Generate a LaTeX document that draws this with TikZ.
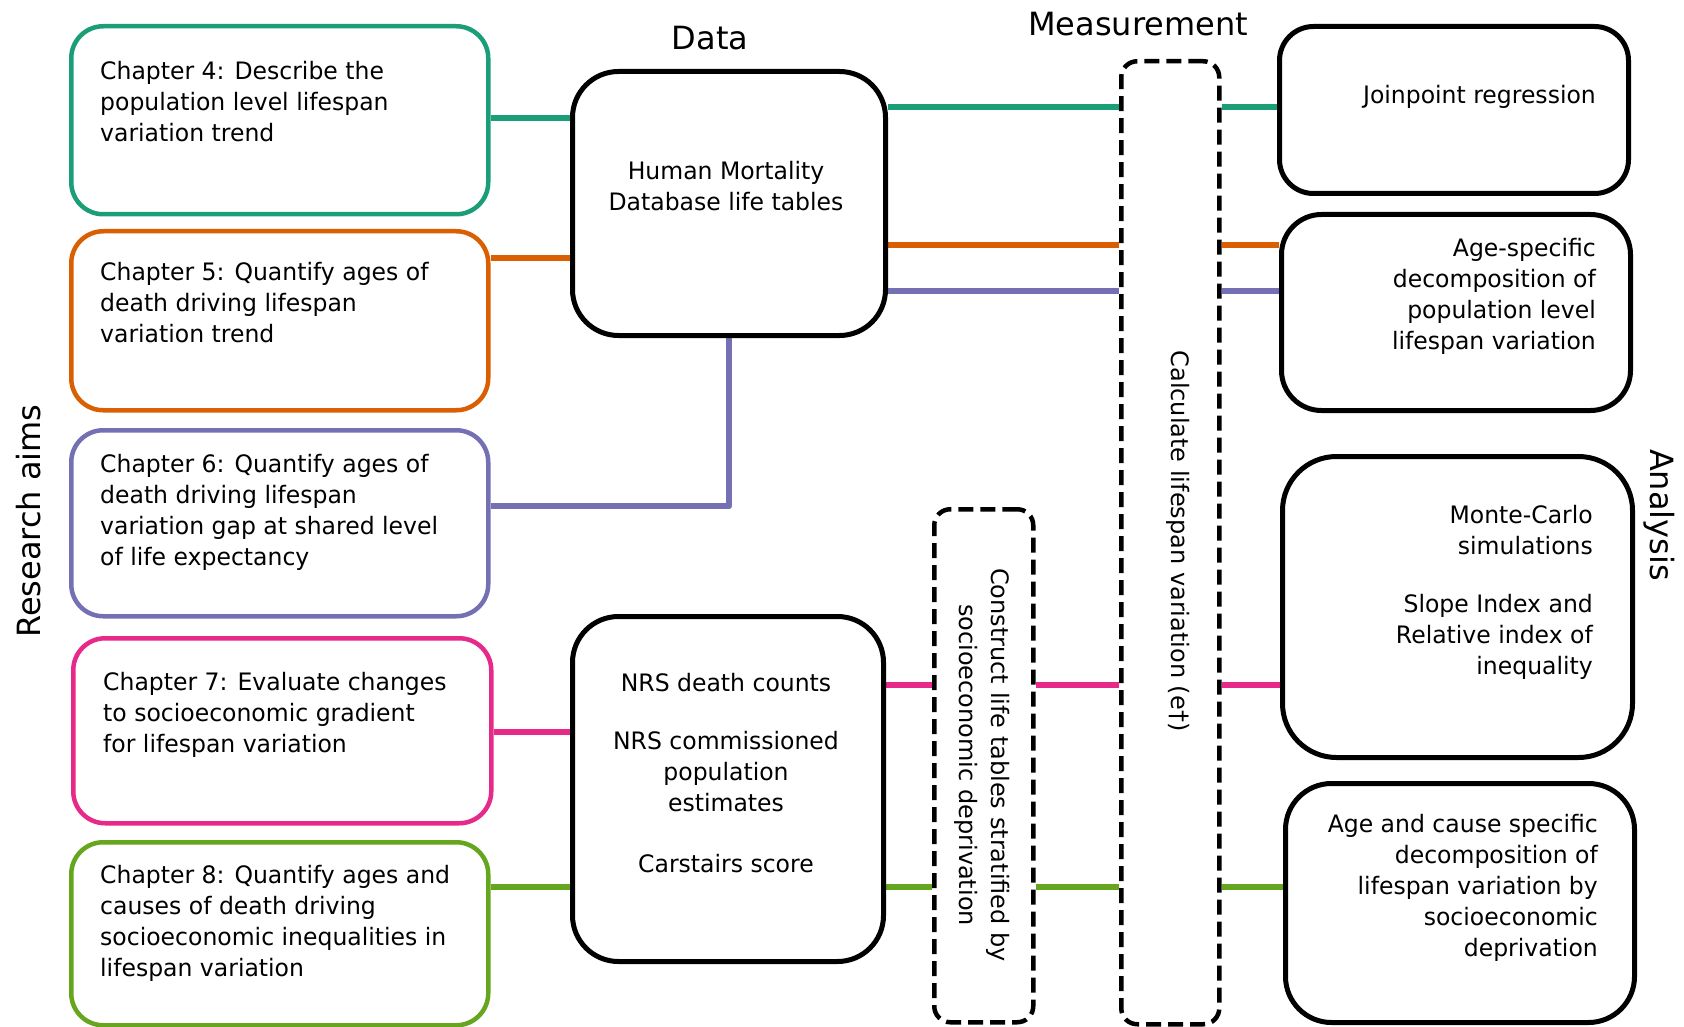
\documentclass[tikz,border=0pt]{standalone}
\usepackage{fontspec}
\setmainfont{DejaVu Sans}
\newfontfamily\bxf{DejaVu Sans}[FakeStretch=0.98]
\usetikzlibrary{backgrounds}
\definecolor{cA}{HTML}{1B9E77}
\definecolor{cB}{HTML}{D95F02}
\definecolor{cC}{HTML}{7570B3}
\definecolor{cD}{HTML}{E7298A}
\definecolor{cE}{HTML}{66A61E}
\begin{document}
\begin{tikzpicture}[x=1pt,y=-1pt,
  cbox/.style={draw=#1, line width=4.5pt, rounded corners=32pt, fill=white, inner sep=0pt, anchor=north west},
  kbox/.style={draw=black, line width=5pt, rounded corners=#1, fill=white, inner sep=0pt, anchor=north west},
  dbox/.style={draw=black, line width=4.5pt, dash pattern=on 15pt off 7pt, rounded corners=16pt, fill=white, inner sep=0pt, anchor=north west},
  conn/.style={line width=6.5pt, draw=#1},
  txt/.style={font=\bxf\fontsize{24}{31}\selectfont, inner sep=0pt},
  ttl/.style={font=\fontsize{32}{38}\selectfont, inner sep=0pt},
  vtxt/.style={font=\fontsize{24}{32}\selectfont, inner sep=0pt, align=center}
]
\useasboundingbox (0,0) rectangle (1684,1027);
% level coordinates
\coordinate (yA) at (0,118);
\coordinate (yA2) at (0,107);
\coordinate (yB) at (0,258);
\coordinate (yB2) at (0,245);
\coordinate (yC) at (0,506);
\coordinate (yC2) at (0,291);
\coordinate (yD) at (0,732);
\coordinate (yD2) at (0,685);
\coordinate (yE) at (0,887);
% boxes
\node[cbox=cA, minimum width=417pt, minimum height=188pt] (ch4) at (69,24) {};
\node[cbox=cB, minimum width=417pt, minimum height=179pt] (ch5) at (69,229) {};
\node[cbox=cC, minimum width=417pt, minimum height=186pt] (ch6) at (69,428) {};
\node[cbox=cD, minimum width=418pt, minimum height=185pt] (ch7) at (71,636) {};
\node[cbox=cE, minimum width=417pt, minimum height=183pt] (ch8) at (69,840) {};
\node[kbox=46pt, minimum width=313pt, minimum height=264pt] (data) at (570,69) {};
\node[kbox=46pt, minimum width=311pt, minimum height=345pt] (nrs) at (570,614) {};
\node[dbox, minimum width=99pt, minimum height=513pt] (cons) at (932,507) {};
\node[dbox, minimum width=98pt, minimum height=963pt] (calc) at (1119,59) {};
\node[kbox=34pt, minimum width=349pt, minimum height=167pt] (join) at (1277,24) {};
\node[kbox=40pt, minimum width=349pt, minimum height=196pt] (agesp) at (1279,212) {};
\node[kbox=54pt, minimum width=350pt, minimum height=301pt] (monte) at (1280,454) {};
\node[kbox=46pt, minimum width=349pt, minimum height=239pt] (cause) at (1283,781) {};
% connectors behind the boxes
\begin{scope}[on background layer]
\draw[conn=cA] (ch4.east |- yA) -- (data.west |- yA);
\draw[conn=cB] (ch5.east |- yB) -- (data.west |- yB);
\draw[conn=cC, line join=round] (ch6.east |- yC) -- (data.south |- yC) -- (data.south);
\draw[conn=cD] (ch7.east |- yD) -- (nrs.west |- yD);
\draw[conn=cE] (ch8.east |- yE) -- (nrs.west |- yE);
\draw[conn=cA] (data.east |- yA2) -- (calc.west |- yA2);
\draw[conn=cA] (calc.east |- yA2) -- (join.west |- yA2);
\draw[conn=cB] (data.east |- yB2) -- (calc.west |- yB2);
\draw[conn=cB] (calc.east |- yB2) -- (agesp.west |- yB2);
\draw[conn=cC] (data.east |- yC2) -- (calc.west |- yC2);
\draw[conn=cC] (calc.east |- yC2) -- (agesp.west |- yC2);
\draw[conn=cD] (nrs.east |- yD2) -- (cons.west |- yD2);
\draw[conn=cD] (cons.east |- yD2) -- (calc.west |- yD2);
\draw[conn=cD] (calc.east |- yD2) -- (monte.west |- yD2);
\draw[conn=cE] (nrs.east |- yE) -- (cons.west |- yE);
\draw[conn=cE] (cons.east |- yE) -- (calc.west |- yE);
\draw[conn=cE] (calc.east |- yE) -- (cause.west |- yE);
\end{scope}
% texts
\node[txt, anchor=north west, align=left] (t4) at (100,61) {Chapter 4: Describe the\\population level lifespan\\variation trend};
\node[txt, anchor=north west, align=left] (t5) at (100,262) {Chapter 5: Quantify ages of\\death driving lifespan\\variation trend};
\node[txt, anchor=north west, align=left] (t6) at (100,454) {Chapter 6: Quantify ages of\\death driving lifespan\\variation gap at shared level\\of life expectancy};
\node[txt, anchor=north west, align=left] (t7) at (103,672) {Chapter 7: Evaluate changes\\to socioeconomic gradient\\for lifespan variation};
\node[txt, anchor=north west, align=left] (t8) at (100,865) {Chapter 8: Quantify ages and\\causes of death driving\\socioeconomic inequalities in\\lifespan variation};
\node[txt, anchor=north, align=center] (tdata) at (726,161) {Human Mortality\\Database life tables};
\node[txt, anchor=north, align=center] (tnrs) at (726,673) {NRS death counts\\[27pt]NRS commissioned\\population\\estimates\\[30pt]Carstairs score};
\node[txt, anchor=north east, align=right] (tjoin) at (1596,85) {Joinpoint regression};
\node[txt, anchor=north east, align=right] (tage) at (1596,238) {Age-specific\\decomposition of\\population level\\lifespan variation};
\node[txt, anchor=north east, align=right] (tmonte) at (1593,505) {Monte-Carlo\\simulations\\[27pt]Slope Index and\\Relative index of\\inequality};
\node[txt, anchor=north east, align=right] (tcause) at (1598,814) {Age and cause specific\\decomposition of\\lifespan variation by\\socioeconomic\\deprivation};
\node[vtxt, rotate=-90] (tcons) at (982,765) {Construct life tables stratified by\\socioeconomic deprivation};
\node[vtxt, rotate=-90] (tcalc) at (1178,541) {Calculate lifespan variation (e†)};
\node[ttl] (hdata) at (710,38) {Data};
\node[ttl] (hmeas) at (1138,24) {Measurement};
\node[ttl, rotate=90] (hres) at (29,521) {Research aims};
\node[ttl, rotate=-90] (hana) at (1659,515) {Analysis};
\end{tikzpicture}
\end{document}
